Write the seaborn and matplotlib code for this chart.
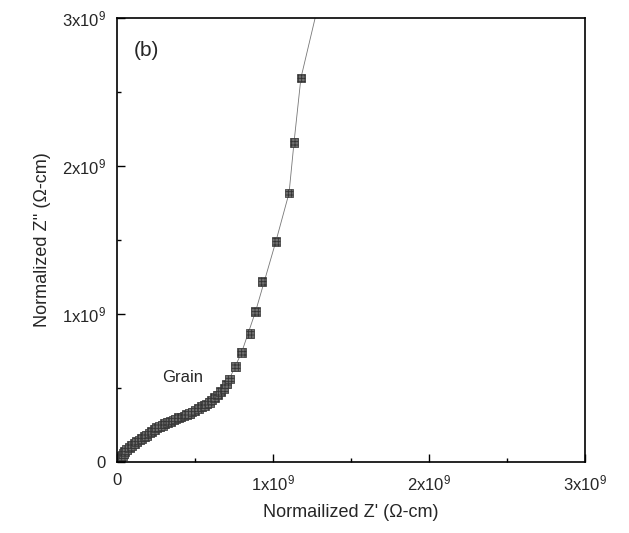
import matplotlib
matplotlib.use('Agg')
import matplotlib.pyplot as plt
from matplotlib import ticker as mtick
import seaborn as sns
import pandas as pd

# impedance data, in units of 1e9 ohm-cm
z_real = [0.008, 0.015, 0.020, 0.026, 0.033, 0.040, 0.050, 0.062, 0.078,
          0.094, 0.110, 0.126, 0.142, 0.158, 0.174, 0.190, 0.206, 0.222,
          0.238, 0.254, 0.272, 0.290, 0.306, 0.322, 0.341, 0.361, 0.377,
          0.393, 0.411, 0.429, 0.446, 0.463, 0.481, 0.500, 0.521, 0.543,
          0.559, 0.575, 0.591, 0.607, 0.625, 0.643, 0.665, 0.686, 0.703,
          0.720, 0.758, 0.799, 0.853, 0.889, 0.929, 1.019, 1.103, 1.135,
          1.179]
z_imag = [0.010, 0.018, 0.027, 0.036, 0.047, 0.059, 0.072, 0.086, 0.098,
          0.110, 0.124, 0.137, 0.149, 0.160, 0.171, 0.182, 0.196, 0.209,
          0.222, 0.234, 0.242, 0.250, 0.259, 0.268, 0.276, 0.284, 0.292,
          0.299, 0.305, 0.311, 0.320, 0.329, 0.338, 0.347, 0.360, 0.374,
          0.383, 0.392, 0.405, 0.419, 0.436, 0.453, 0.475, 0.498, 0.528,
          0.561, 0.644, 0.741, 0.870, 1.020, 1.223, 1.493, 1.818, 2.162,
          2.595]

# fitted line, runs past the top of the plot
fit_real = [0.0, 0.015, 0.062, 0.126, 0.222, 0.322, 0.429, 0.543, 0.643,
            0.720, 0.799, 0.889, 1.019, 1.103, 1.135, 1.179, 1.270, 1.300]
fit_imag = [0.0, 0.018, 0.086, 0.137, 0.209, 0.268, 0.311, 0.374, 0.453,
            0.561, 0.741, 1.020, 1.493, 1.818, 2.162, 2.595, 3.000, 3.150]

tick_vals = [0, 1e9, 2e9, 3e9]
tick_labels = ['0', '1x10$^{9}$', '2x10$^{9}$', '3x10$^{9}$']

sns.set_style('ticks')
plt.rcParams['font.family'] = ['Liberation Sans', 'DejaVu Sans']
plt.rcParams['mathtext.fontset'] = 'custom'
plt.rcParams['mathtext.rm'] = 'Liberation Sans'
plt.rcParams['mathtext.it'] = 'Liberation Sans'
plt.rcParams['hatch.color'] = '#222222'
plt.rcParams['hatch.linewidth'] = 0.6

df = pd.DataFrame({'zr': [v * 1e9 for v in z_real],
                   'zi': [v * 1e9 for v in z_imag]})
fit = pd.DataFrame({'zr': [v * 1e9 for v in fit_real],
                    'zi': [v * 1e9 for v in fit_imag]})

fig = plt.figure(figsize=(6.29, 5.33), dpi=100)
ax = fig.add_axes([0.186, 0.133, 0.744, 0.833])

sns.lineplot(data=fit, x='zr', y='zi', sort=False, ax=ax,
             color='#777777', linewidth=0.6, zorder=1)
sns.scatterplot(data=df, x='zr', y='zi', ax=ax, marker='s', s=40,
                color='#707070', edgecolor='#333333', linewidth=0.5,
                hatch='+++++', zorder=2)

ax.set_xlim(0, 3e9)
ax.set_ylim(0, 3e9)
ax.set_xticks(tick_vals)
ax.set_yticks(tick_vals)
ax.set_xticklabels(tick_labels, fontsize=12)
ax.set_yticklabels(tick_labels, fontsize=12)
ax.xaxis.set_minor_locator(mtick.MultipleLocator(0.5e9))
ax.yaxis.set_minor_locator(mtick.MultipleLocator(0.5e9))
ax.tick_params(which='both', direction='in', color='black')
ax.tick_params(which='major', length=6, width=1, pad=8)
ax.tick_params(which='minor', length=3, width=1)

for spine in ax.spines.values():
    spine.set_visible(True)
    spine.set_linewidth(1.2)
    spine.set_color('black')

ax.set_xlabel("Normailized Z' (\u03a9-cm)", fontsize=13, labelpad=8)
ax.set_ylabel("Normalized Z'' (\u03a9-cm)", fontsize=13, labelpad=8)

ax.text(0.19e9, 2.78e9, '(b)', fontsize=15, va='center', ha='center')
ax.text(0.42e9, 0.57e9, 'Grain', fontsize=12, va='center', ha='center')

fig.savefig('out.png', dpi=100)
